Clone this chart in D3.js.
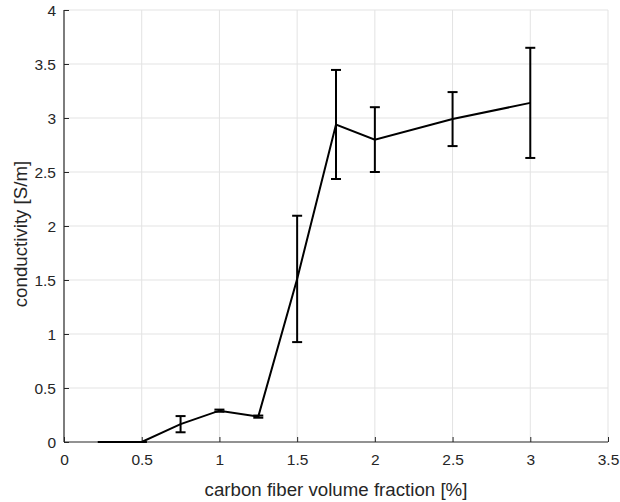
<!DOCTYPE html>
<html lang="en">
<head>
<meta charset="UTF-8">
<title>conductivity</title>
<style>
    body { margin: 0; background: #fff; }
    text { font-family: "Liberation Sans", Arial, sans-serif; fill: #262626; }
</style>
</head>
<body>
<svg id="chart"></svg>
<script src="https://cdn.jsdelivr.net/npm/d3@7"></script>
<script>

    // carbon fiber volume fraction [%]
    var fractions = [0.25, 0.5, 0.75, 1, 1.25, 1.5, 1.75, 2, 2.5, 3];
    // mean conductivity [S/m]
    var conductivity = [0, 0, 0.165, 0.29, 0.235, 1.51, 2.94, 2.80, 2.99, 3.14];
    // error (half-length of bar)
    var errors = [0, 0, 0.075, 0.01, 0.01, 0.585, 0.505, 0.30, 0.25, 0.51];

    var xTicks = [0, 0.5, 1, 1.5, 2, 2.5, 3, 3.5];
    var yTicks = [0, 0.5, 1, 1.5, 2, 2.5, 3, 3.5, 4];

    var svgWidth = 620, svgHeight = 502;
    var margin = {top: 10, right: 12, bottom: 60, left: 64};
    var w = svgWidth - margin.left - margin.right;
    var h = svgHeight - margin.top - margin.bottom;

    var svg = d3.select('#chart')
        .attr('width', svgWidth)
        .attr('height', svgHeight);

    var g = svg.append('g')
        .attr('transform', 'translate(' + margin.left + ',' + margin.top + ')');

    var xScale = d3.scaleLinear().domain([0, 3.5]).range([0, w]);
    var yScale = d3.scaleLinear().domain([0, 4]).range([h, 0]);

    // grid
    g.append('g').selectAll('line')
        .data(xTicks.slice(1))
        .enter().append('line')
        .attr('x1', function(d) { return xScale(d); })
        .attr('x2', function(d) { return xScale(d); })
        .attr('y1', 0).attr('y2', h)
        .attr('stroke', '#e3e3e3').attr('stroke-width', 1);

    g.append('g').selectAll('line')
        .data(yTicks.slice(1))
        .enter().append('line')
        .attr('x1', 0).attr('x2', w)
        .attr('y1', function(d) { return yScale(d); })
        .attr('y2', function(d) { return yScale(d); })
        .attr('stroke', '#e3e3e3').attr('stroke-width', 1);

    // axes (ticks pointing inward)
    var xAxis = d3.axisTop(xScale).tickValues(xTicks).tickSize(5).tickFormat(d3.format('~g'));
    var yAxis = d3.axisRight(yScale).tickValues(yTicks).tickSize(5).tickFormat(d3.format('~g'));

    var gx = g.append('g')
        .attr('transform', 'translate(0,' + h + ')')
        .call(xAxis);
    gx.selectAll('text')
        .attr('y', 23)
        .attr('dy', 0)
        .style('font-size', '15.5px');

    var gy = g.append('g').call(yAxis);
    gy.selectAll('text')
        .attr('x', -8)
        .attr('dy', '0.35em')
        .attr('text-anchor', 'end')
        .style('font-size', '15.5px');

    g.selectAll('.domain').attr('stroke', '#262626').attr('stroke-width', 1.2)
        .attr('d', null);
    gx.select('.domain').attr('d', 'M0,0H' + w);
    gy.select('.domain').attr('d', 'M0,0V' + h);
    g.selectAll('.tick line').attr('stroke', '#262626');

    // error bars
    var capHalf = 5;
    var bars = g.append('g').selectAll('g')
        .data(fractions)
        .enter().append('g')
        .attr('stroke', '#000').attr('stroke-width', 2).attr('fill', 'none');

    bars.append('line')
        .attr('x1', function(d) { return xScale(d); })
        .attr('x2', function(d) { return xScale(d); })
        .attr('y1', function(d, i) { return yScale(conductivity[i] + errors[i]); })
        .attr('y2', function(d, i) { return yScale(conductivity[i] - errors[i]); });
    bars.append('line')
        .attr('x1', function(d) { return xScale(d) - capHalf; })
        .attr('x2', function(d) { return xScale(d) + capHalf; })
        .attr('y1', function(d, i) { return yScale(conductivity[i] + errors[i]); })
        .attr('y2', function(d, i) { return yScale(conductivity[i] + errors[i]); });
    bars.append('line')
        .attr('x1', function(d) { return xScale(d) - capHalf; })
        .attr('x2', function(d) { return xScale(d) + capHalf; })
        .attr('y1', function(d, i) { return yScale(conductivity[i] - errors[i]); })
        .attr('y2', function(d, i) { return yScale(conductivity[i] - errors[i]); });

    // data line
    var line = d3.line()
        .x(function(d) { return xScale(d); })
        .y(function(d, i) { return yScale(conductivity[i]); });

    g.append('path')
        .datum(fractions)
        .attr('d', line)
        .attr('fill', 'none')
        .attr('stroke', '#000')
        .attr('stroke-width', 2);

    // axis labels
    svg.append('text')
        .attr('x', margin.left + w / 2)
        .attr('y', 496)
        .attr('text-anchor', 'middle')
        .style('font-size', '18.7px')
        .text('carbon fiber volume fraction [%]');

    svg.append('text')
        .attr('transform', 'translate(27,234) rotate(-90)')
        .attr('text-anchor', 'middle')
        .style('font-size', '18.7px')
        .text('conductivity [S/m]');

</script>
</body>
</html>
